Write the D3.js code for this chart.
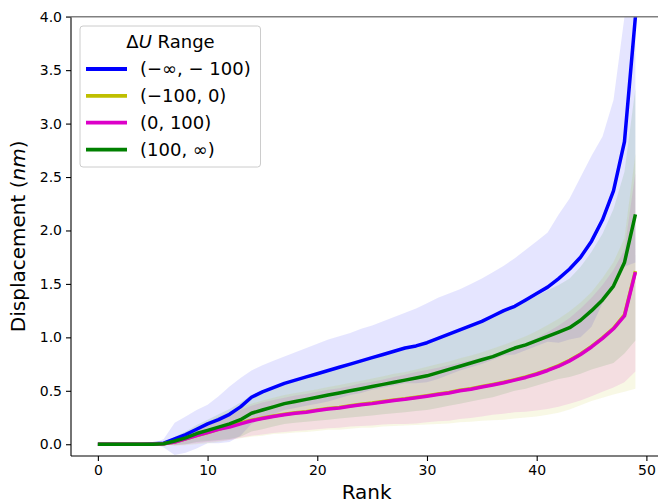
<!DOCTYPE html>
<html>
<head>
<meta charset="utf-8">
<script src="https://cdn.jsdelivr.net/npm/d3@7"></script>
<style>
  html, body { margin: 0; padding: 0; background: #fff; }
  svg { display: block; font-family: "DejaVu Sans", sans-serif; }
</style>
</head>
<body>
<svg id="chart" width="658" height="504"></svg>
<script>
// ---- data ----
const ranks = d3.range(0, 50);
const seriesNames = ["(−∞, − 100)", "(−100, 0)", "(0, 100)", "(100, ∞)"];
const seriesColors = ["#0000ff", "#bfbf00", "#dc00c8", "#008000"];

const blueMean = [0,0,0,0,0,0.005,0.01,0.05,0.09,0.14,0.19,0.23,0.28,0.35,0.44,0.49,0.53,0.57,0.60,0.63,
  0.66,0.69,0.72,0.75,0.78,0.81,0.84,0.87,0.90,0.92,0.95,0.99,1.03,1.07,1.11,1.15,1.20,1.25,1.29,1.35,
  1.41,1.47,1.55,1.64,1.75,1.90,2.10,2.37,2.83,4.00];
const blueSd = [0,0,0,0,0,0,0.04,0.15,0.17,0.18,0.18,0.22,0.26,0.27,0.25,0.25,0.25,0.25,0.26,0.27,
  0.28,0.29,0.29,0.29,0.30,0.30,0.31,0.32,0.33,0.35,0.37,0.38,0.38,0.38,0.39,0.40,0.41,0.42,0.45,0.47,
  0.49,0.51,0.60,0.66,0.75,0.80,0.78,0.85,1.17,2.30];

const yellowMean = [0,0,0,0,0,0,0.005,0.02,0.05,0.08,0.11,0.14,0.17,0.20,0.225,0.245,0.265,0.28,0.295,0.305,
  0.32,0.335,0.345,0.36,0.375,0.385,0.40,0.415,0.425,0.44,0.455,0.47,0.485,0.505,0.52,0.54,0.56,0.58,0.605,0.63,
  0.66,0.695,0.735,0.785,0.845,0.915,0.995,1.085,1.21,1.62];
const yellowSd = [0,0,0,0,0,0,0.005,0.035,0.06,0.08,0.10,0.12,0.13,0.145,0.155,0.165,0.17,0.18,0.185,0.19,
  0.195,0.20,0.21,0.215,0.22,0.23,0.235,0.245,0.25,0.26,0.27,0.28,0.29,0.30,0.31,0.32,0.335,0.35,0.365,0.38,
  0.40,0.42,0.44,0.46,0.48,0.51,0.56,0.62,0.72,1.10];

const magentaMean = [0,0,0,0,0,0,0.005,0.02,0.05,0.08,0.11,0.14,0.16,0.19,0.22,0.24,0.26,0.275,0.29,0.30,
  0.315,0.33,0.34,0.355,0.37,0.38,0.395,0.41,0.42,0.435,0.45,0.465,0.48,0.50,0.515,0.535,0.555,0.575,0.60,0.625,
  0.655,0.69,0.73,0.78,0.84,0.91,0.99,1.08,1.20,1.61];
const magentaSd = [0,0,0,0,0,0,0.005,0.03,0.05,0.07,0.09,0.11,0.12,0.13,0.14,0.15,0.155,0.16,0.165,0.17,
  0.175,0.18,0.185,0.19,0.20,0.205,0.21,0.22,0.23,0.24,0.245,0.25,0.26,0.265,0.27,0.275,0.28,0.29,0.30,0.32,
  0.34,0.36,0.38,0.40,0.43,0.46,0.50,0.55,0.62,0.93];

const greenMean = [0,0,0,0,0,0,0.005,0.03,0.06,0.10,0.13,0.16,0.19,0.23,0.29,0.32,0.35,0.38,0.40,0.42,
  0.44,0.46,0.48,0.50,0.52,0.54,0.56,0.58,0.60,0.62,0.64,0.67,0.70,0.73,0.76,0.79,0.82,0.86,0.90,0.93,
  0.97,1.01,1.05,1.09,1.16,1.25,1.35,1.48,1.70,2.15];
const greenSd = [0,0,0,0,0,0,0.01,0.04,0.06,0.08,0.10,0.12,0.14,0.16,0.17,0.18,0.185,0.19,0.20,0.21,
  0.22,0.23,0.24,0.25,0.26,0.27,0.28,0.29,0.30,0.31,0.32,0.33,0.34,0.35,0.36,0.37,0.38,0.39,0.40,0.41,
  0.42,0.43,0.44,0.46,0.50,0.55,0.62,0.72,0.85,1.18];

const xTicks = [0, 10, 20, 30, 40, 50];
const yTicks = [0.0, 0.5, 1.0, 1.5, 2.0, 2.5, 3.0, 3.5, 4.0];

const means = [blueMean, yellowMean, magentaMean, greenMean];
const sds = [blueSd, yellowSd, magentaSd, greenSd];

// ---- layout ----
const svg = d3.select("#chart");
const pL = 71, pR = 662.3, pT = 16.7, pB = 456;
const x = d3.scaleLinear().domain([-2.45, 51.45]).range([pL, pR]);
const y = d3.scaleLinear().domain([-0.11, 4.0]).range([pB, pT]);

svg.append("defs").append("clipPath").attr("id", "plotclip")
  .append("rect").attr("x", pL).attr("y", pT).attr("width", pR - pL).attr("height", pB - pT);

const plot = svg.append("g").attr("clip-path", "url(#plotclip)");

// bands (mean ± sd)
means.forEach((m, i) => {
  const area = d3.area()
    .x((d, j) => x(ranks[j]))
    .y0((d, j) => y(m[j] - sds[i][j]))
    .y1((d, j) => y(m[j] + sds[i][j]));
  plot.append("path").datum(m)
    .attr("d", area)
    .attr("fill", seriesColors[i])
    .attr("fill-opacity", 0.1)
    .attr("stroke", "none");
});

// lines
means.forEach((m, i) => {
  const line = d3.line().x((d, j) => x(ranks[j])).y(d => y(d));
  plot.append("path").datum(m)
    .attr("d", line)
    .attr("fill", "none")
    .attr("stroke", seriesColors[i])
    .attr("stroke-width", 3.5)
    .attr("stroke-linejoin", "round")
    .attr("stroke-linecap", "butt");
});

// axes
const xAxis = d3.axisBottom(x).tickValues(xTicks).tickFormat(d3.format("d")).tickSize(5).tickPadding(4);
const yAxis = d3.axisLeft(y).tickValues(yTicks).tickFormat(d3.format(".1f")).tickSize(5).tickPadding(4);

const gx = svg.append("g").attr("transform", `translate(0,${pB})`).call(xAxis);
const gy = svg.append("g").attr("transform", `translate(${pL},0)`).call(yAxis);
[gx, gy].forEach(g => {
  g.selectAll("path.domain").attr("stroke", "#000").attr("stroke-width", 1.1);
  g.selectAll(".tick line").attr("stroke", "#000").attr("stroke-width", 1.1);
  g.selectAll(".tick text").attr("fill", "#000").style("font-size", "14px").style("font-family", "DejaVu Sans");
});
gx.select("path.domain").attr("d", `M${pL},0H${pR + 5}`);
gy.select("path.domain").attr("d", `M0,${pB}V${pT}`);

// top grey line
svg.append("line")
  .attr("x1", 66).attr("x2", 658).attr("y1", y(4.0)).attr("y2", y(4.0))
  .attr("stroke", "#808080").attr("stroke-width", 1.5);

// axis labels
svg.append("text")
  .attr("x", (pL + pR) / 2).attr("y", 499)
  .attr("text-anchor", "middle").style("font-size", "20px").attr("fill", "#000")
  .text("Rank");

const yl = svg.append("text")
  .attr("transform", `translate(25,${(pT + pB) / 2}) rotate(-90)`)
  .attr("text-anchor", "middle").style("font-size", "20px").attr("fill", "#000");
yl.append("tspan").text("Displacement (");
yl.append("tspan").style("font-style", "italic").text("nm");
yl.append("tspan").text(")");

// legend
const lg = svg.append("g");
lg.append("rect")
  .attr("x", 80).attr("y", 26).attr("width", 180.5).attr("height", 141)
  .attr("rx", 3).attr("fill", "#fff").attr("fill-opacity", 0.8)
  .attr("stroke", "#cccccc").attr("stroke-width", 1);
const title = lg.append("text")
  .attr("x", 170.5).attr("y", 47.5).attr("text-anchor", "middle")
  .style("font-size", "18px").attr("fill", "#000");
title.append("tspan").text("Δ");
title.append("tspan").style("font-style", "italic").text("U");
title.append("tspan").text(" Range");

const rowY = [69, 95.8, 122.6, 149.6];
seriesNames.forEach((name, i) => {
  lg.append("line").attr("x1", 86).attr("x2", 127).attr("y1", rowY[i]).attr("y2", rowY[i])
    .attr("stroke", seriesColors[i]).attr("stroke-width", 3.8);
  lg.append("text").attr("x", 140).attr("y", rowY[i] + 6.3)
    .style("font-size", "18px").attr("fill", "#000").text(name);
});
</script>
</body>
</html>
